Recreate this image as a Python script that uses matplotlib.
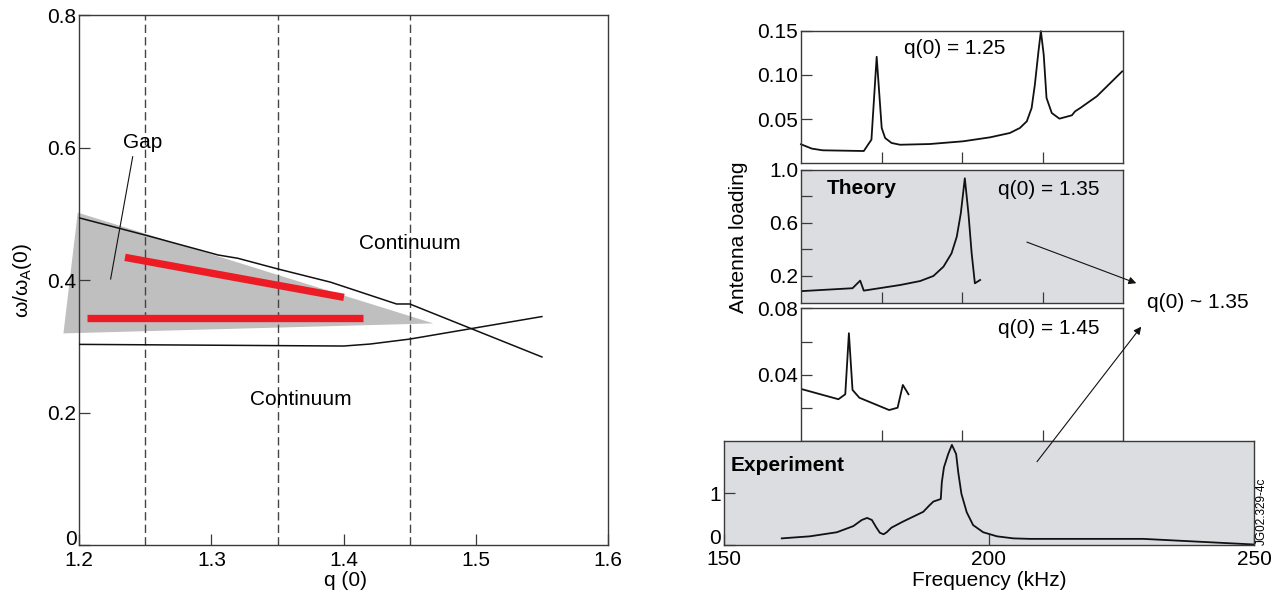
import matplotlib
matplotlib.use("Agg")
import matplotlib.pyplot as plt
from matplotlib.patches import Polygon, FancyArrowPatch

plt.rcParams['font.family'] = ['Liberation Sans', 'DejaVu Sans']
plt.rcParams['font.size'] = 15

# ---------------- data: left panel ----------------
q_upper = [1.2, 1.25, 1.305, 1.32, 1.35, 1.39, 1.44, 1.45, 1.55]
w_upper = [0.494, 0.468, 0.438, 0.433, 0.417, 0.397, 0.364, 0.364, 0.284]
q_lower = [1.2, 1.4, 1.42, 1.45, 1.5, 1.55]
w_lower = [0.303, 0.3005, 0.3035, 0.311, 0.328, 0.345]
gap_q = [1.1988, 1.4678, 1.188]
gap_w = [0.502, 0.3347, 0.3196]
red_upper_q = [1.2346, 1.4002]
red_upper_w = [0.4344, 0.374]
red_lower_q = [1.206, 1.4144]
red_lower_w = [0.3432, 0.3432]
q_dashed = [1.25, 1.35, 1.45]
left_xticks = [1.2, 1.3, 1.4, 1.5, 1.6]
left_xlabels = ['1.2', '1.3', '1.4', '1.5', '1.6']
left_yticks = [0, 0.2, 0.4, 0.6, 0.8]
left_ylabels = ['0', '0.2', '0.4', '0.6', '0.8']

# ---------------- data: theory panels (frequency, kHz-like units) ----------------
f125 = [160, 162.7, 165.4, 175.6, 177.5, 178.8, 180.05, 180.9, 182.5, 184.6, 192.0,
        200.3, 207.0, 211.9, 214.4, 216.1, 217.3, 218.1, 219.0, 219.6, 220.3, 221.0,
        222.3, 224.2, 227.3, 228.1, 229.4, 233.5, 239.8]
a125 = [0.0215, 0.0166, 0.0147, 0.0139, 0.0268, 0.1205, 0.040, 0.0286, 0.023, 0.021,
        0.0218, 0.0249, 0.0294, 0.0343, 0.040, 0.0475, 0.0626, 0.0889, 0.1267, 0.1495,
        0.1229, 0.0739, 0.0569, 0.0505, 0.0543, 0.0588, 0.0626, 0.0758, 0.104]
f135 = [160, 172.8, 174.7, 175.6, 184.6, 189.6, 192.9, 195.4, 197.4, 198.7, 199.7,
        200.7, 201.6, 202.4, 203.2, 204.5]
a135 = [0.086, 0.108, 0.165, 0.090, 0.132, 0.162, 0.200, 0.270, 0.370, 0.495, 0.670,
        0.934, 0.670, 0.370, 0.145, 0.170]
f145 = [160, 169.3, 171.0, 171.9, 172.8, 174.5, 181.9, 184.0, 185.3, 186.7]
a145 = [0.0315, 0.0253, 0.0283, 0.065, 0.0309, 0.0262, 0.0188, 0.0202, 0.0339, 0.0283]
theory_xticks = [180, 200, 220]

# ---------------- data: experiment ----------------
f_exp = [160.9, 166.2, 171.3, 174.4, 176.0, 177.0, 177.9, 178.7, 179.4, 180.1, 180.7,
         181.6, 183.8, 187.6, 188.7, 189.5, 190.9, 191.1, 191.5, 192.3, 193.0, 193.8,
         194.2, 194.8, 195.8, 197.0, 198.9, 201.5, 204.6, 207.7, 229.1, 250]
v_exp = [0.12, 0.16, 0.24, 0.36, 0.48, 0.52, 0.48, 0.34, 0.23, 0.20, 0.24, 0.33, 0.45,
         0.64, 0.76, 0.84, 0.89, 1.22, 1.51, 1.77, 1.95, 1.77, 1.41, 0.99, 0.63, 0.38,
         0.24, 0.16, 0.12, 0.11, 0.11, 0.0]
exp_xticks = [150, 200, 250]
exp_yticks = [0, 1]

W, H = 1284, 596
fig = plt.figure(figsize=(W / 100, H / 100), dpi=100)


def px_axes(l, t, r, b, **kw):
    return fig.add_axes([l / W, 1 - b / H, (r - l) / W, (b - t) / H], **kw)


SPINE = '#3a3a3a'


def style(ax, lw=1.0):
    for s in ax.spines.values():
        s.set_color(SPINE)
        s.set_linewidth(lw)
    ax.tick_params(which='both', direction='in', length=8, width=0.9, color=SPINE,
                   pad=2, labelsize=15, top=False, right=False)


def lift_zero_label(ax):
    # the "0" y label sits on the corner (baseline at the axis), as in the reference
    for lab in ax.get_yticklabels():
        if lab.get_text() == '0':
            lab.set_verticalalignment('baseline')


# ---------------- left panel ----------------
axL = px_axes(79.3, 15.3, 608, 545)
style(axL)
axL.set_xlim(1.2, 1.6)
axL.set_ylim(0, 0.8)
axL.set_xticks(left_xticks, left_xlabels)
axL.set_yticks(left_yticks, left_ylabels)
axL.tick_params(axis='x', pad=4)
lift_zero_label(axL)

axL.add_patch(Polygon(list(zip(gap_q, gap_w)), closed=True, facecolor='#bfbfbf',
                      edgecolor='none', clip_on=False, zorder=1))
for q in q_dashed:
    axL.axvline(q, color='#444444', lw=1.0, dashes=(6, 3), zorder=2)
axL.plot(q_upper, w_upper, color='#111111', lw=1.1, zorder=3)
axL.plot(q_lower, w_lower, color='#111111', lw=1.1, zorder=3)
axL.plot(red_upper_q, red_upper_w, color='#ed1c24', lw=5.3, solid_capstyle='butt', zorder=4)
axL.plot(red_lower_q, red_lower_w, color='#ed1c24', lw=5.3, solid_capstyle='butt', zorder=4)
axL.plot([1.2404, 1.2237], [0.5864, 0.4017], color='#111111', lw=0.8, zorder=3)
axL.text(1.248, 0.6086, 'Gap', ha='center', va='center', fontsize=15)
axL.text(1.4497, 0.4556, 'Continuum', ha='center', va='center', fontsize=15)
axL.text(1.3677, 0.2204, 'Continuum', ha='center', va='center', fontsize=15)
fig.text(345 / W, 1 - 581 / H, 'q (0)', ha='center', va='center', fontsize=15)
fig.text(23 / W, 1 - 280 / H, 'ω/ω$_\\mathregular{A}$(0)', ha='center', va='center',
         fontsize=15, rotation=90)

# ---------------- theory panels ----------------
ax1 = px_axes(801, 30.7, 1123, 163.3)
ax2 = px_axes(801, 169.5, 1123, 302.6)
ax3 = px_axes(801, 308.3, 1123, 441.3)
for ax in (ax1, ax2, ax3):
    style(ax)
    ax.set_xlim(160, 240)
    ax.set_xticks(theory_xticks)
    ax.tick_params(axis='x', labelbottom=False)

ax1.set_ylim(0, 0.15)
ax1.set_yticks([0.05, 0.10, 0.15], ['0.05', '0.10', '0.15'])
ax1.plot(f125, a125, color='#111111', lw=1.3, clip_on=False)
ax1.text(0.477, 0.862, 'q(0) = 1.25', transform=ax1.transAxes, ha='center', va='center')

ax2.set_facecolor('#dcdde0')
ax2.set_ylim(0, 1.0)
ax2.set_yticks([0.2, 0.6, 1.0], ['0.2', '0.6', '1.0'])
ax2.set_yticks([0.4, 0.8], minor=True)
ax2.plot(f135, a135, color='#111111', lw=1.3)
ax2.text(0.0795, 0.861, 'Theory', transform=ax2.transAxes, ha='left', va='center',
         fontweight='bold')
ax2.text(0.77, 0.85, 'q(0) = 1.35', transform=ax2.transAxes, ha='center', va='center')

ax3.set_ylim(0, 0.08)
ax3.set_yticks([0.04, 0.08], ['0.04', '0.08'])
ax3.set_yticks([0.02, 0.06], minor=True)
ax3.plot(f145, a145, color='#111111', lw=1.3)
ax3.text(0.77, 0.85, 'q(0) = 1.45', transform=ax3.transAxes, ha='center', va='center')

# ---------------- experiment ----------------
axE = px_axes(724, 441.3, 1254, 544.5, zorder=3)
style(axE)
axE.set_facecolor('#dcdde0')
axE.set_xlim(150, 250)
axE.set_ylim(0, 2.02)
axE.set_xticks(exp_xticks, ['150', '200', '250'])
axE.set_yticks(exp_yticks, ['0', '1'])
axE.tick_params(axis='x', pad=4)
lift_zero_label(axE)
axE.plot(f_exp, v_exp, color='#111111', lw=1.3)
axE.text(0.0126, 0.769, 'Experiment', transform=axE.transAxes, ha='left', va='center',
         fontweight='bold')
fig.text(989 / W, 1 - 581 / H, 'Frequency (kHz)', ha='center', va='center', fontsize=15)
fig.text(738 / W, 1 - 237 / H, 'Antenna loading', ha='center', va='center', fontsize=15,
         rotation=90)
fig.text(1147 / W, 1 - 303 / H, 'q(0) ~ 1.35', ha='left', va='center', fontsize=15)
fig.text(1262 / W, 1 - 511 / H, 'JG02.329-4c', ha='center', va='center', fontsize=8.5,
         rotation=90)


# ---------------- arrows ----------------
def arrow(p0, p1):
    a = FancyArrowPatch((p0[0] / 100, (H - p0[1]) / 100), (p1[0] / 100, (H - p1[1]) / 100),
                        transform=fig.dpi_scale_trans, arrowstyle='-|>', mutation_scale=11,
                        lw=0.8, color='#111111', shrinkA=0, shrinkB=0, zorder=10)
    fig.add_artist(a)


arrow((1026.9, 242.1), (1136.3, 283.2))
arrow((1037.0, 461.7), (1141.2, 326.7))

fig.savefig('out.png', dpi=100)
